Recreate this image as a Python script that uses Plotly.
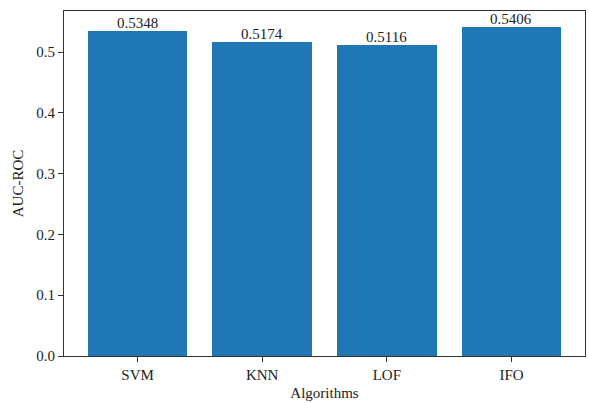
import plotly.graph_objects as go

algorithms = ["SVM", "KNN", "LOF", "IFO"]
auc_roc = [0.5348, 0.5174, 0.5116, 0.5406]
y_ticks = [0.0, 0.1, 0.2, 0.3, 0.4, 0.5]

font_family = "Liberation Serif"
fs = 15

fig = go.Figure(go.Bar(
    x=list(range(len(algorithms))),
    y=auc_roc,
    width=0.8,
    marker=dict(color="#1f77b4", line=dict(width=0)),
    hoverinfo="skip",
))

for i, v in enumerate(auc_roc):
    fig.add_annotation(
        x=i, y=v, text=f"{v:.4f}", showarrow=False,
        yanchor="bottom", xanchor="center", yshift=-2,
        font=dict(family=font_family, size=fs, color="#222"),
    )

fig.update_layout(
    width=589, height=403,
    margin=dict(l=64, r=4, t=11, b=47, autoexpand=False),
    plot_bgcolor="white", paper_bgcolor="white",
    font=dict(family=font_family, size=fs, color="#222"),
    showlegend=False,
    bargap=0,
)
fig.update_xaxes(
    range=[-0.59, 3.59],
    tickvals=list(range(len(algorithms))),
    ticktext=algorithms,
    showline=True, linecolor="#333", linewidth=1, mirror=True,
    ticks="outside", ticklen=5, tickcolor="#333",
    showgrid=False, zeroline=False, automargin=False,
    title=dict(text="Algorithms", standoff=5, font=dict(size=fs)),
)
fig.update_yaxes(
    range=[0, 0.5676],
    tickvals=y_ticks,
    ticktext=[f"{t:.1f}" for t in y_ticks],
    showline=True, linecolor="#333", linewidth=1, mirror=True,
    ticks="outside", ticklen=5, tickcolor="#333",
    showgrid=False, zeroline=False, automargin=False,
    title=dict(text="AUC-ROC", standoff=9, font=dict(size=fs)),
)

fig.write_html(
    "out.html",
    config={"responsive": False, "displayModeBar": False},
    post_script="document.body.style.margin='0';document.body.style.overflow='hidden';",
)
